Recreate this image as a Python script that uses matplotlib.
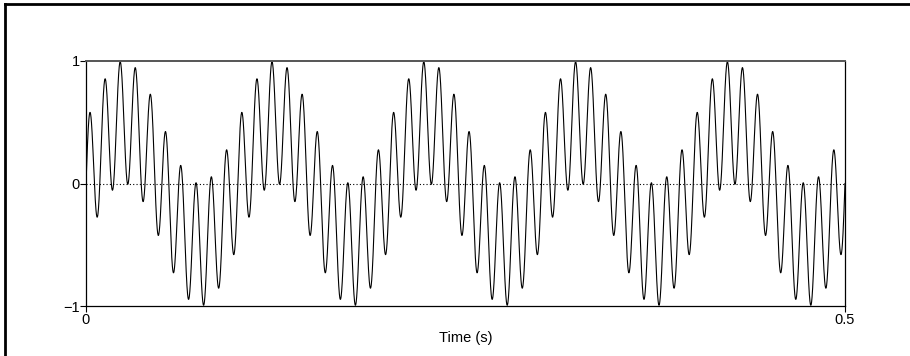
import numpy as np
import matplotlib.pyplot as plt
from matplotlib.lines import Line2D

# signal parameters: 10 Hz + 100 Hz, equal amplitude
t_start, t_stop = 0.0, 0.5
n_samples = 5001
freqs_hz = [10.0, 100.0]
amps = [0.5, 0.5]

x_ticks = [0, 0.5]
x_tick_labels = ['0', '0.5']
y_ticks = [-1, 0, 1]
y_tick_labels = ['\u22121', '0', '1']
x_label = 'Time (s)'

t = np.linspace(t_start, t_stop, n_samples)
y = np.zeros_like(t)
for f, a in zip(freqs_hz, amps):
    y += a * np.sin(2 * np.pi * f * t)

plt.rcParams.update({
    "font.family": ["Liberation Sans", "DejaVu Sans"],
    "font.size": 10.5,
    "xtick.major.size": 4,
    "ytick.major.size": 4,
    "xtick.major.width": 0.8,
    "ytick.major.width": 0.8,
    "xtick.major.pad": 1,
    "ytick.major.pad": 0.5,
})

fig = plt.figure(figsize=(9.1, 3.56), dpi=100)
ax = fig.add_axes([86 / 910, 1 - 306 / 356, (845 - 86) / 910, (306 - 61) / 356])

ax.plot(t, y, color='black', lw=0.8)
ax.axhline(0, color='black', lw=0.8, ls=(0, (1, 2)))

ax.set_xlim(t_start, t_stop)
ax.set_ylim(-1, 1)
ax.set_xticks(x_ticks)
ax.set_xticklabels(x_tick_labels)
ax.set_yticks(y_ticks)
ax.set_yticklabels(y_tick_labels)
ax.set_xlabel(x_label, labelpad=3)

for side in ['left', 'right', 'bottom']:
    ax.spines[side].set_linewidth(0.9)
    ax.spines[side].set_color('black')
ax.spines['top'].set_linewidth(1.4)
ax.spines['top'].set_color('#555555')

# figure frame (top and left edges only visible)
fig.add_artist(Line2D([4.5 / 910, 1.0], [1 - 4 / 356, 1 - 4 / 356], color='black', lw=2, transform=fig.transFigure))
fig.add_artist(Line2D([5 / 910, 5 / 910], [0, 1 - 4 / 356], color='black', lw=2, transform=fig.transFigure))

fig.savefig('out.png', dpi=100)
